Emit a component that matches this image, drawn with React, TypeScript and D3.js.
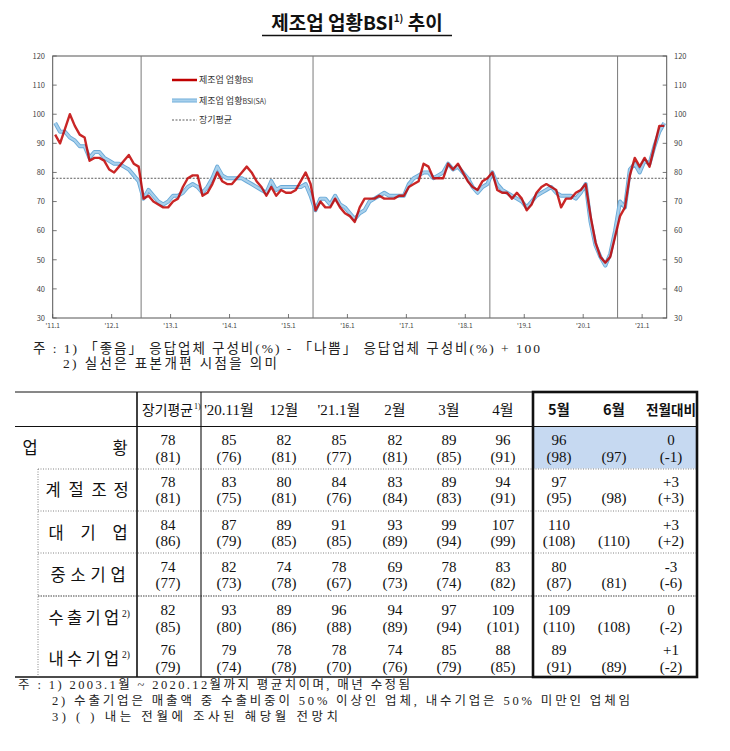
import React from 'react';
import * as d3 from 'd3';

// ---------------- DATA ----------------
const monthCount = 125; // 2011.1 ~ 2021.5 plus one empty slot
const bsi = [
  93, 90, 95, 100, 96, 93, 92, 84, 85, 85, 84, 81,
  80, 82, 84, 86, 83, 82, 71, 72, 70, 69, 68, 68,
  70, 71, 75, 78, 79, 79, 72, 73, 76, 80, 77, 76,
  76, 78, 80, 82, 80, 77, 75, 72, 75, 72, 74, 73,
  73, 74, 77, 80, 76, 67, 70, 68, 68, 71, 68, 66,
  65, 63, 68, 71, 71, 71, 72, 71, 71, 71, 72, 72,
  75, 76, 77, 83, 82, 78, 78, 78, 83, 81, 83, 80,
  77, 75, 74, 77, 78, 80, 74, 73, 73, 71, 73, 71,
  67, 69, 73, 75, 76, 75, 74, 68, 71, 71, 73, 74,
  76, 65, 56, 51, 49, 51, 58, 65, 68, 79, 85, 82,
  85, 82, 89, 96, 96,
];
const bsiSA = [
  97, 94, 94, 92, 91, 89, 89, 85, 87, 87, 85, 84,
  83, 83, 82, 81, 79, 77, 71, 74, 72, 70, 69, 70,
  72, 72, 73, 75, 76, 75, 73, 75, 78, 82, 79, 78,
  78, 78, 78, 77, 76, 75, 74, 73, 77, 74, 75, 75,
  75, 75, 75, 76, 72, 67, 71, 71, 69, 72, 69, 68,
  66, 64, 66, 67, 70, 71, 72, 73, 72, 72, 72, 72,
  76, 78, 79, 80, 80, 78, 79, 80, 83, 81, 82, 80,
  78, 75, 73, 75, 76, 80, 76, 74, 73, 72, 71, 70,
  68, 70, 72, 73, 74, 75, 73, 72, 72, 72, 71, 73,
  76, 63, 55, 51, 48, 52, 60, 70, 68, 81, 83, 80,
  84, 83, 89, 94, 97,
];
const longAvg = 78;
const revisionIdx = [18, 53, 89, 115];
const yTicks = [30, 40, 50, 60, 70, 80, 90, 100, 110, 120];
const yearTickLabels = ["'11.1", "'12.1", "'13.1", "'14.1", "'15.1", "'16.1", "'17.1", "'18.1", "'19.1", "'20.1", "'21.1"];

const legendLabels = ['제조업 업황', '제조업 업황', '장기평균'];
const legendSuffix = ['BSI', 'BSI(SA)', ''];

const tableHeaders = ['장기평균', "'20.11월", '12월', "'21.1월", '2월', '3월', '4월', '5월', '6월', '전월대비'];
const rowNames = ['업황', '계절조정', '대기업', '중소기업', '수출기업', '내수기업'];
const rowActual = [
  ['78', '85', '82', '85', '82', '89', '96', '96', '', '0'],
  ['78', '83', '80', '84', '83', '89', '94', '97', '', '+3'],
  ['84', '87', '89', '91', '93', '99', '107', '110', '', '+3'],
  ['74', '82', '74', '78', '69', '78', '83', '80', '', '-3'],
  ['82', '93', '89', '96', '94', '97', '109', '109', '', '0'],
  ['76', '79', '78', '78', '74', '85', '88', '89', '', '+1'],
];
const rowForecast = [
  ['(81)', '(76)', '(81)', '(77)', '(81)', '(85)', '(91)', '(98)', '(97)', '(-1)'],
  ['(81)', '(75)', '(81)', '(76)', '(84)', '(83)', '(91)', '(95)', '(98)', '(+3)'],
  ['(86)', '(79)', '(85)', '(85)', '(89)', '(94)', '(99)', '(108)', '(110)', '(+2)'],
  ['(77)', '(73)', '(78)', '(67)', '(73)', '(74)', '(82)', '(87)', '(81)', '(-6)'],
  ['(85)', '(80)', '(86)', '(88)', '(89)', '(94)', '(101)', '(110)', '(108)', '(-2)'],
  ['(79)', '(74)', '(78)', '(70)', '(76)', '(79)', '(85)', '(91)', '(89)', '(-2)'],
];

// ---------------- STYLE ----------------
const SANS = "'Noto Sans CJK KR', 'Noto Sans', sans-serif";
const SERIF = "'Liberation Serif', 'DejaVu Serif', 'Noto Sans CJK KR', serif";

const W = 730;
const H = 751;
const plot = { left: 52.7, right: 666.7, top: 56, bottom: 318 };

export default function App() {
  const x = d3.scaleLinear().domain([0, monthCount]).range([plot.left, plot.right]);
  const y = d3.scaleLinear().domain([30, 120]).range([plot.bottom, plot.top]);
  const line = d3
    .line<number>()
    .x((_, i) => x(i + 0.5))
    .y((d) => y(d));

  const yearTicks = yearTickLabels.map((l, i) => ({ label: l, idx: i * 12 }));

  // table layout
  const colX = [168, 229, 284, 339, 395, 449, 503, 559, 614, 671];
  const rowY: [number, number][] = [
    [440, 456.5],
    [482, 497.5],
    [525, 540.5],
    [567, 583],
    [610, 626.5],
    [650, 667],
  ];
  const rowLabelX: number[][] = [
    [30, 120],
    [53, 76, 99, 121],
    [56, 88, 120],
    [58, 78, 98, 118],
    [56, 74.5, 93, 111.5],
    [56, 74.5, 93, 111.5],
  ];
  const superRows = [4, 5];
  const tLeft = 15;
  const tRight = 697;
  const tTop = 392;
  const tHead = 426.5;
  const tBottom = 677;
  const boxL = 533;
  const dotted = [469, 511, 553, 596];

  return (
    <svg
      width={W}
      height={H}
      viewBox={`0 0 ${W} ${H}`}
      style={{ position: 'absolute', left: 0, top: 0, background: '#fff' }}
    >
      <rect x={0} y={0} width={W} height={H} fill="#fff" />
      {/* Title */}
      <text x={357} y={30} textAnchor="middle" fontFamily={SANS} fontWeight={700} fontSize={19} fill="#111">
        제조업 업황BSI<tspan fontSize={10} dy={-8}>1)</tspan>
        <tspan dy={8}> 추이</tspan>
      </text>
      <line x1={262} x2={452} y1={35.5} y2={35.5} stroke="#111" strokeWidth={1.3} />

      {/* Plot frame */}
      <rect
        x={plot.left}
        y={plot.top}
        width={plot.right - plot.left}
        height={plot.bottom - plot.top}
        fill="none"
        stroke="#555"
        strokeWidth={1}
      />
      {/* Y ticks & labels */}
      {yTicks.map((t) => (
        <g key={t}>
          <line x1={plot.left} x2={plot.left + 4} y1={y(t)} y2={y(t)} stroke="#555" strokeWidth={0.8} />
          <line x1={plot.right - 4} x2={plot.right} y1={y(t)} y2={y(t)} stroke="#555" strokeWidth={0.8} />
          <text x={45} y={y(t) + 2.8} textAnchor="end" fontFamily={SANS} fontSize={7.5} fill="#444">
            {t}
          </text>
          <text x={674} y={y(t) + 2.8} textAnchor="start" fontFamily={SANS} fontSize={7.5} fill="#444">
            {t}
          </text>
        </g>
      ))}
      {/* X ticks */}
      {yearTicks.map((t) => (
        <g key={t.label}>
          <line x1={x(t.idx)} x2={x(t.idx)} y1={plot.bottom} y2={plot.bottom - 4} stroke="#555" strokeWidth={0.8} />
          <text x={x(t.idx)} y={328} textAnchor="middle" fontFamily={SANS} fontSize={6.5} fill="#444">
            {t.label}
          </text>
        </g>
      ))}
      {/* revision lines */}
      {revisionIdx.map((r) => (
        <line key={r} x1={x(r)} x2={x(r)} y1={plot.top} y2={plot.bottom} stroke="#7a7a7a" strokeWidth={1} />
      ))}
      {/* long-run average */}
      <line
        x1={plot.left}
        x2={plot.right}
        y1={y(longAvg)}
        y2={y(longAvg)}
        stroke="#333"
        strokeWidth={0.8}
        strokeDasharray="2,1.5"
      />
      {/* SA series */}
      <path d={line(bsiSA) || ''} fill="none" stroke="#6aaad8" strokeWidth={4} strokeLinejoin="round" />
      <path d={line(bsiSA) || ''} fill="none" stroke="#a8d0ec" strokeWidth={2.2} strokeLinejoin="round" />
      {/* original series */}
      <path
        d={line(bsi) || ''}
        fill="none"
        stroke="#c00000"
        strokeOpacity={0.85}
        strokeWidth={2.4}
        strokeLinejoin="round"
      />

      {/* Legend */}
      <g fontFamily={SANS} fill="#333">
        <line x1={172} x2={197} y1={80} y2={80} stroke="#c00000" strokeWidth={2.5} />
        <text x={199} y={83.3} fontSize={9}>
          {legendLabels[0]}
          <tspan fontSize={7}>{legendSuffix[0]}</tspan>
        </text>
        <line x1={172} x2={197} y1={100.5} y2={100.5} stroke="#6aaad8" strokeWidth={4} />
        <line x1={172} x2={197} y1={100.5} y2={100.5} stroke="#a8d0ec" strokeWidth={2.2} />
        <text x={199} y={103.8} fontSize={9}>
          {legendLabels[1]}
          <tspan fontSize={7}>{legendSuffix[1]}</tspan>
        </text>
        <line x1={172} x2={197} y1={120} y2={120} stroke="#333" strokeWidth={0.8} strokeDasharray="2,1.5" />
        <text x={199} y={123.3} fontSize={9}>
          {legendLabels[2]}
        </text>
      </g>

      {/* Notes under chart */}
      <g fontFamily={SERIF} fontSize={13.5} fill="#222">
        <text x={33} y={353} textLength={507} lengthAdjust="spacing">
          주 : 1) 「좋음」 응답업체 구성비(%) - 「나쁨」 응답업체 구성비(%) + 100
        </text>
        <text x={63} y={368} textLength={214} lengthAdjust="spacing">
          2) 실선은 표본개편 시점을 의미
        </text>
      </g>

      {/* ---------- TABLE ---------- */}
      <rect x={boxL} y={tHead} width={tRight - boxL} height={rowY[0][1] + 12 - tHead} fill="#c6d9f1" />
      <line x1={tLeft} x2={boxL} y1={tTop} y2={tTop} stroke="#111" strokeWidth={1} />
      <line x1={tLeft} x2={tRight} y1={tHead} y2={tHead} stroke="#111" strokeWidth={1} />
      <line x1={tLeft} x2={tRight} y1={tBottom} y2={tBottom} stroke="#111" strokeWidth={1.6} />
      {dotted.map((d, i) => (
        <line
          key={d}
          x1={38}
          x2={tRight}
          y1={d}
          y2={d}
          stroke={i === 3 ? '#444' : '#777'}
          strokeWidth={i === 3 ? 1.2 : 0.9}
          strokeDasharray={i === 3 ? '1.5,1' : '1,1.5'}
        />
      ))}
      <line x1={38} x2={38} y1={dotted[0]} y2={tBottom} stroke="#777" strokeWidth={0.9} strokeDasharray="1,1.5" />
      <line x1={137} x2={137} y1={tTop} y2={tBottom} stroke="#111" strokeWidth={1.6} />
      <line x1={201} x2={201} y1={tTop} y2={tBottom} stroke="#111" strokeWidth={1.1} />
      <rect x={boxL} y={tTop} width={tRight - boxL} height={tBottom - tTop} fill="none" stroke="#111" strokeWidth={2.6} />

      {/* headers */}
      <g fontFamily={SERIF} fontSize={15} fill="#111" textAnchor="middle">
        {tableHeaders.map((h, i) => {
          const bold = i >= 7;
          if (i === 0) {
            return (
              <g key={h}>
                <text x={142} y={415} textAnchor="start" fontFamily={SANS} fontSize={14} textLength={51} lengthAdjust="spacingAndGlyphs">
                  {h}
                </text>
                <text x={194} y={409} textAnchor="start" fontSize={8}>
                  1)
                </text>
              </g>
            );
          }
          if (i === 9) {
            return (
              <text key={h} x={colX[i]} y={415} fontWeight={700} fontFamily={SANS} fontSize={14} textLength={50} lengthAdjust="spacingAndGlyphs">
                {h}
              </text>
            );
          }
          return (
            <text key={h} x={colX[i]} y={415} fontWeight={bold ? 700 : 400} fontFamily={bold ? SANS : SERIF} fontSize={bold ? 14.5 : 15}>
              {h}
            </text>
          );
        })}
      </g>

      {/* row labels */}
      <g fontFamily={SANS} fontSize={16.5} fill="#111" textAnchor="middle">
        {rowNames.map((name, r) => {
          const cy = (rowY[r][0] + rowY[r][1]) / 2 + 6;
          const chars = Array.from(name);
          return (
            <g key={name}>
              {chars.map((c, k) => (
                <text key={k} x={rowLabelX[r][k]} y={cy}>
                  {c}
                </text>
              ))}
              {superRows.includes(r) && (
                <text x={126} y={cy - 7} fontSize={9.5} fontFamily={SERIF}>
                  2)
                </text>
              )}
            </g>
          );
        })}
      </g>

      {/* values */}
      <g fontFamily={SERIF} fontSize={15} fill="#111" textAnchor="middle">
        {rowActual.map((row, r) =>
          row.map((v, c) =>
            v ? (
              <text key={`a${r}-${c}`} x={colX[c]} y={rowY[r][0] + 5}>
                {v}
              </text>
            ) : null
          )
        )}
        {rowForecast.map((row, r) =>
          row.map((v, c) =>
            v ? (
              <text key={`f${r}-${c}`} x={colX[c]} y={rowY[r][1] + 5}>
                {v}
              </text>
            ) : null
          )
        )}
      </g>

      {/* footnotes */}
      <g fontFamily={SERIF} fontSize={12.5} fill="#222">
        <text x={18} y={689} textLength={392} lengthAdjust="spacing">
          주 : 1) 2003.1월 ~ 2020.12월까지 평균치이며, 매년 수정됨
        </text>
        <text x={52} y={705} textLength={578} lengthAdjust="spacing">
          2) 수출기업은 매출액 중 수출비중이 50% 이상인 업체, 내수기업은 50% 미만인 업체임
        </text>
        <text x={52} y={721} textLength={286} lengthAdjust="spacing">
          3) (    ) 내는 전월에 조사된 해당월 전망치
        </text>
      </g>
    </svg>
  );
}
